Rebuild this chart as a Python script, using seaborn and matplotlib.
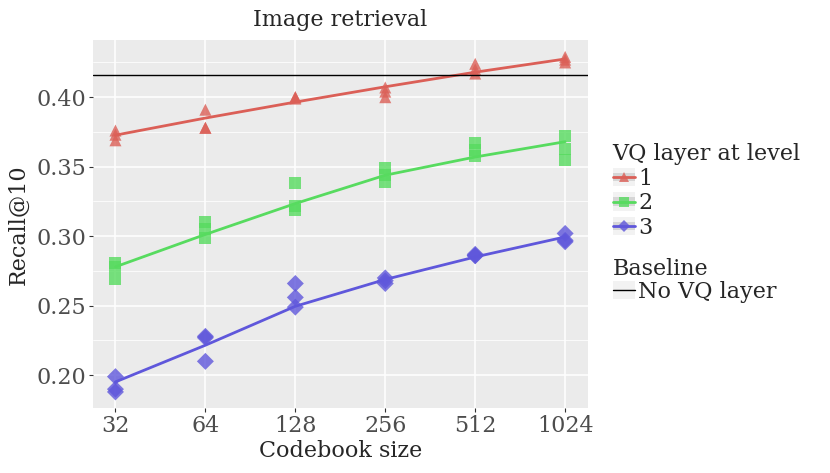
import pandas as pd
import numpy as np
import matplotlib
matplotlib.use("Agg")
import matplotlib.pyplot as plt
import seaborn as sns
from matplotlib.lines import Line2D
from matplotlib.patches import Rectangle
from matplotlib.legend_handler import HandlerBase
from matplotlib.ticker import FixedLocator, MultipleLocator, FormatStrFormatter

# codebook sizes and levels
sizes = [32, 64, 128, 256, 512, 1024]
levels = ["1", "2", "3"]

# measured runs (3 per codebook size)
level1_runs = [
    [0.376, 0.373, 0.369],
    [0.391, 0.378, 0.378],
    [0.400, 0.399, 0.400],
    [0.407, 0.404, 0.400],
    [0.424, 0.420, 0.417],
    [0.429, 0.427, 0.425],
]
level2_runs = [
    [0.281, 0.278, 0.269],
    [0.310, 0.305, 0.299],
    [0.338, 0.322, 0.319],
    [0.349, 0.344, 0.339],
    [0.367, 0.362, 0.358],
    [0.372, 0.363, 0.355],
]
level3_runs = [
    [0.199, 0.190, 0.188],
    [0.228, 0.227, 0.210],
    [0.266, 0.256, 0.249],
    [0.270, 0.268, 0.266],
    [0.287, 0.286, 0.286],
    [0.302, 0.297, 0.296],
]

# smoothed fit per level
level1_fit = [0.3727, 0.3850, 0.3965, 0.4075, 0.4180, 0.4275]
level2_fit = [0.2780, 0.3013, 0.3235, 0.3439, 0.3570, 0.3680]
level3_fit = [0.1952, 0.2216, 0.2496, 0.2689, 0.2851, 0.2995]

baseline = 0.4158

rows = []
for lvl, runs in zip(levels, [level1_runs, level2_runs, level3_runs]):
    for s, vals in zip(sizes, runs):
        for v in vals:
            rows.append({"size": s, "level": lvl, "recall": v})
points = pd.DataFrame(rows)

fit_rows = []
for lvl, fit in zip(levels, [level1_fit, level2_fit, level3_fit]):
    for s, v in zip(sizes, fit):
        fit_rows.append({"size": s, "level": lvl, "recall": v})
fits = pd.DataFrame(fit_rows)

sns.set_style("darkgrid", {"axes.facecolor": "#ebebeb", "grid.color": "white"})
plt.rcParams["font.family"] = ["DejaVu Serif"]

palette = dict(zip(levels, sns.color_palette("hls", 3)))
markers = {"1": "^", "2": "s", "3": "D"}
fs = 16

fig = plt.figure(figsize=(8.3, 4.73), dpi=100)
ax = fig.add_axes([0.112, 0.137, 0.596, 0.778])

sns.lineplot(data=fits, x="size", y="recall", hue="level", palette=palette,
             linewidth=2, legend=False, ax=ax, zorder=3)
sns.scatterplot(data=points, x="size", y="recall", hue="level", style="level",
                markers=markers, palette=palette, s=75, alpha=0.8,
                edgecolor="none", legend=False, ax=ax, zorder=4)
ax.axhline(baseline, color="black", linewidth=1, zorder=5)

ax.set_xscale("log", base=2)
ax.set_xlim(2 ** 4.75, 2 ** 10.25)
ax.set_ylim(0.1763, 0.441)
ax.xaxis.set_major_locator(FixedLocator(sizes))
ax.xaxis.set_minor_locator(FixedLocator([]))
ax.set_xticklabels([str(s) for s in sizes])
ax.yaxis.set_major_locator(MultipleLocator(0.05))
ax.yaxis.set_minor_locator(MultipleLocator(0.025))
ax.yaxis.set_major_formatter(FormatStrFormatter("%.2f"))
ax.grid(which="major", color="white", linewidth=1.1)
ax.grid(which="minor", axis="y", color="white", linewidth=0.55)
for sp in ax.spines.values():
    sp.set_visible(False)
ax.tick_params(which="major", length=3, width=0.8, color="#333333",
               labelcolor="#4d4d4d", labelsize=fs, pad=2, bottom=True, left=True)
ax.tick_params(which="minor", length=0)

ax.set_xlabel("Codebook size", fontsize=fs, labelpad=2)
ax.set_ylabel("Recall@10", fontsize=fs, labelpad=5)
ax.set_title("Image retrieval", fontsize=fs, pad=10)


class KeyHandler(HandlerBase):
    def __init__(self, band=True):
        super().__init__()
        self.band = band

    def create_artists(self, legend, orig, xd, yd, w, h, fontsize, trans):
        arts = [Rectangle((-xd, -yd), w, h, facecolor="#f2f2f2",
                          edgecolor="none", transform=trans)]
        if self.band:
            arts.append(Rectangle((-xd, -yd + h * 0.28), w, h * 0.44,
                                  facecolor="#d6d6d6", edgecolor="none",
                                  transform=trans))
        cy = -yd + h / 2
        arts.append(Line2D([-xd, -xd + w], [cy, cy], color=orig.get_color(),
                           linewidth=orig.get_linewidth(), transform=trans))
        if orig.get_marker() not in (None, "None", ""):
            arts.append(Line2D([-xd + w / 2], [cy], marker=orig.get_marker(),
                               markersize=orig.get_markersize(),
                               color=orig.get_color(), alpha=0.8,
                               linestyle="none", markeredgewidth=0,
                               transform=trans))
        return arts


lvl_handles = [Line2D([], [], color=palette[l], marker=markers[l],
                      markersize=6.5, linewidth=2) for l in levels]
leg1 = fig.legend(lvl_handles, levels, title="VQ layer at level",
                  loc="upper left", bbox_to_anchor=(0.738, 0.698),
                  frameon=False, fontsize=fs, title_fontsize=fs,
                  handlelength=1.0, handleheight=0.9, labelspacing=0.12,
                  handletextpad=0.15, borderaxespad=0, borderpad=0,
                  alignment="left",
                  handler_map={h: KeyHandler() for h in lvl_handles})
base_handle = Line2D([], [], color="black", linewidth=1, marker="None")
leg2 = fig.legend([base_handle], ["No VQ layer"], title="Baseline",
                  loc="upper left", bbox_to_anchor=(0.738, 0.455),
                  frameon=False, fontsize=fs, title_fontsize=fs,
                  handlelength=1.0, handleheight=0.9, labelspacing=0.05,
                  handletextpad=0.15, borderaxespad=0, borderpad=0,
                  alignment="left",
                  handler_map={base_handle: KeyHandler(band=False)})

fig.savefig("out.png", dpi=100)
